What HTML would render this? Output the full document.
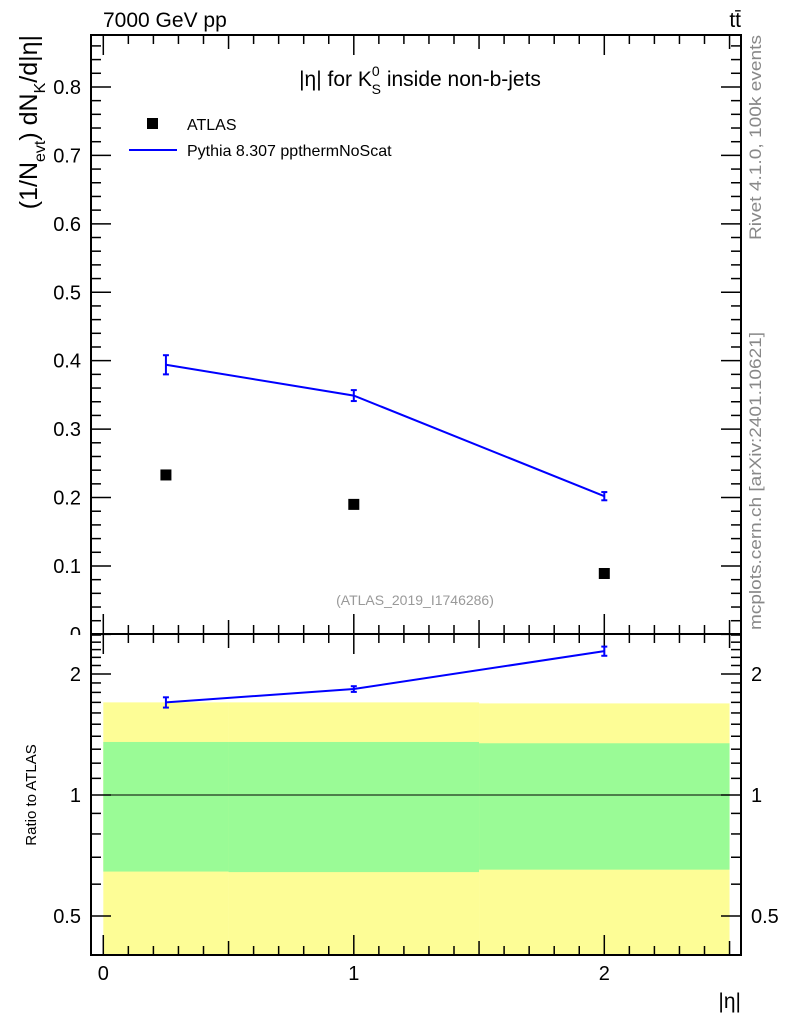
<!DOCTYPE html>
<html><head><meta charset="utf-8"><style>
body{margin:0;background:#fff;}
svg{display:block;font-family:"Liberation Sans",sans-serif;}
</style></head><body>
<svg id="c" width="786" height="1024" xmlns="http://www.w3.org/2000/svg">
<text x="103" y="27" font-size="21">7000 GeV pp</text>
<text x="741" y="27" font-size="21" text-anchor="end">tt̄</text>
<text x="420" y="86" font-size="21" text-anchor="middle">|η| for K<tspan font-size="14" dy="-10">0</tspan><tspan font-size="14" dx="-8" dy="18">S</tspan><tspan dy="-8"> inside non-b-jets</tspan></text>
<rect x="147" y="118" width="11" height="11" fill="#000"/>
<text x="187" y="130" font-size="16">ATLAS</text>
<line x1="129" y1="150" x2="177" y2="150" stroke="#0000ff" stroke-width="2"/>
<text x="187" y="156" font-size="16">Pythia 8.307 ppthermNoScat</text>
<text x="415" y="605" font-size="14" fill="#999" text-anchor="middle">(ATLAS_2019_I1746286)</text>
<text transform="translate(761,35) rotate(-90)" font-size="17" fill="#888" text-anchor="end" textLength="205" lengthAdjust="spacingAndGlyphs">Rivet 4.1.0,  100k events</text>
<text transform="translate(761,630) rotate(-90)" font-size="17" fill="#888" textLength="298" lengthAdjust="spacingAndGlyphs">mcplots.cern.ch [arXiv:2401.10621]</text>
<text transform="translate(37,35) rotate(-90)" font-size="25" text-anchor="end">(1/N<tspan font-size="16" dy="8">evt</tspan><tspan dy="-8">) dN</tspan><tspan font-size="16" dy="8">K</tspan><tspan dy="-8">/d|η|</tspan></text>
<text transform="translate(36,795) rotate(-90)" font-size="15" text-anchor="middle">Ratio to ATLAS</text>
<text x="741" y="1008" font-size="21" text-anchor="end">|η|</text>
<g id="g"></g>
</svg>
<script>
const binEdges=[0,0.5,1.5,2.5];
const xVals=[0.25,1,2];
const atlasVals=[0.233,0.190,0.089];
const pythiaVals=[0.394,0.349,0.202];
const pythiaErr=[0.014,0.008,0.006];
const ratioVals=[1.70,1.835,2.28];
const ratioErr=[0.05,0.03,0.06];
const greenHi=[1.355,1.355,1.345];
const greenLo=[0.645,0.643,0.652];
const yellowHi=[1.70,1.70,1.69];
const yellowLo=[0.40,0.40,0.40];
const yTicks=[0.1,0.2,0.3,0.4,0.5,0.6,0.7,0.8];
const xTicks=[0,1,2];
const rTicks=[0.5,1,2];

const NS="http://www.w3.org/2000/svg";
const g=document.getElementById('g');
const L=91,R=741,T=35,MB=634,RB=955;
const X=v=>103.3+v*250.5;
const Y=v=>634.4-v*684.3;
const RY=v=>795-Math.log2(v)*121;
function mk(t,a,name){const e=document.createElementNS(NS,t);for(const k in a)e.setAttribute(k,a[k]);


g.appendChild(e);return e;}
{const t=mk('text',{x:L-10,y:641,'font-size':20,'text-anchor':'end'},'y-tick-label');t.textContent='0';}
for(let i=0;i<3;i++){
 const x1=X(binEdges[i]),x2=X(binEdges[i+1]);
 mk('rect',{x:x1,y:RY(yellowHi[i]),width:x2-x1,height:Math.min(RB,RY(yellowLo[i]))-RY(yellowHi[i]),fill:'#fdfd96'},'yellow-band');
 mk('rect',{x:x1,y:RY(greenHi[i]),width:x2-x1,height:RY(greenLo[i])-RY(greenHi[i]),fill:'#9afb96'},'green-band');
}
mk('rect',{x:0,y:MB+1,width:L,height:10,fill:'#fff'},'label-mask');
mk('line',{x1:L,x2:R,y1:RY(1),y2:RY(1),stroke:'#000','stroke-width':1},'ratio-unity-line');
mk('rect',{x:L,y:T,width:R-L,height:MB-T,fill:'none',stroke:'#000','stroke-width':2},'main-frame');
mk('rect',{x:L,y:MB,width:R-L,height:RB-MB,fill:'none',stroke:'#000','stroke-width':2},'ratio-frame');
for(let v=0;v<=0.87;v+=0.02){const y=Y(v);const maj=Math.abs(v*10-Math.round(v*10))<1e-6;const len=maj?20:10;
 mk('line',{x1:L,x2:L+len,y1:y,y2:y,stroke:'#000','stroke-width':1.5},'y-tick');
 mk('line',{x1:R,x2:R-len,y1:y,y2:y,stroke:'#000','stroke-width':1.5},'y-tick-right');}
yTicks.forEach(v=>{const t=mk('text',{x:L-10,y:Y(v)+7,'font-size':20,'text-anchor':'end'},'y-tick-label');t.textContent=v.toFixed(1);});
for(let k=0;k<=25;k++){const v=k/10,x=X(v);if(x>R)break;const len=(k%10==0)?20:(k%5==0?14:9);
 [[MB,-1],[T,1],[RB,-1],[MB,1]].forEach(([y0,d])=>mk('line',{x1:x,x2:x,y1:y0,y2:y0+d*len,stroke:'#000','stroke-width':1.5},'x-tick'));}
xTicks.forEach(v=>{const t=mk('text',{x:X(v),y:980,'font-size':20,'text-anchor':'middle'},'x-tick-label');t.textContent=v;});
const rmin=[0.4,0.5,0.6,0.7,0.8,0.9,1,1.1,1.2,1.3,1.4,1.5,1.6,1.7,1.8,1.9,2,2.1,2.2,2.3,2.4,2.5];
rmin.forEach(v=>{const y=RY(v);if(y<MB||y>RB)return;const len=rTicks.includes(v)?20:10;
 mk('line',{x1:L,x2:L+len,y1:y,y2:y,stroke:'#000','stroke-width':1.5},'ratio-y-tick');
 mk('line',{x1:R,x2:R-len,y1:y,y2:y,stroke:'#000','stroke-width':1.5},'ratio-y-tick-right');});
rTicks.forEach(v=>{const t=mk('text',{x:L-10,y:RY(v)+7,'font-size':20,'text-anchor':'end'},'ratio-y-tick-label');t.textContent=v;
 const t2=mk('text',{x:R+10,y:RY(v)+7,'font-size':20},'ratio-y-tick-label-right');t2.textContent=v;});
mk('polyline',{points:xVals.map((x,i)=>X(x)+','+Y(pythiaVals[i])).join(' '),fill:'none',stroke:'#0000ff','stroke-width':2},'pythia-line');
xVals.forEach((x,i)=>{const cx=X(x),y1=Y(pythiaVals[i]+pythiaErr[i]),y2=Y(pythiaVals[i]-pythiaErr[i]);
 mk('line',{x1:cx,x2:cx,y1:y1,y2:y2,stroke:'#0000ff','stroke-width':2},'pythia-errorbar');
 mk('line',{x1:cx-3,x2:cx+3,y1:y1,y2:y1,stroke:'#0000ff','stroke-width':2},'pythia-errorcap');
 mk('line',{x1:cx-3,x2:cx+3,y1:y2,y2:y2,stroke:'#0000ff','stroke-width':2},'pythia-errorcap');});
xVals.forEach((x,i)=>mk('rect',{x:X(x)-5.5,y:Y(atlasVals[i])-5.5,width:11,height:11,fill:'#000'},'atlas-point'));
mk('polyline',{points:xVals.map((x,i)=>X(x)+','+RY(ratioVals[i])).join(' '),fill:'none',stroke:'#0000ff','stroke-width':2},'ratio-line');
xVals.forEach((x,i)=>{const cx=X(x),y1=RY(ratioVals[i]+ratioErr[i]),y2=RY(ratioVals[i]-ratioErr[i]);
 mk('line',{x1:cx,x2:cx,y1:y1,y2:y2,stroke:'#0000ff','stroke-width':2},'ratio-errorbar');
 mk('line',{x1:cx-3,x2:cx+3,y1:y1,y2:y1,stroke:'#0000ff','stroke-width':2},'ratio-errorcap');
 mk('line',{x1:cx-3,x2:cx+3,y1:y2,y2:y2,stroke:'#0000ff','stroke-width':2},'ratio-errorcap');});
</script>
</body></html>
